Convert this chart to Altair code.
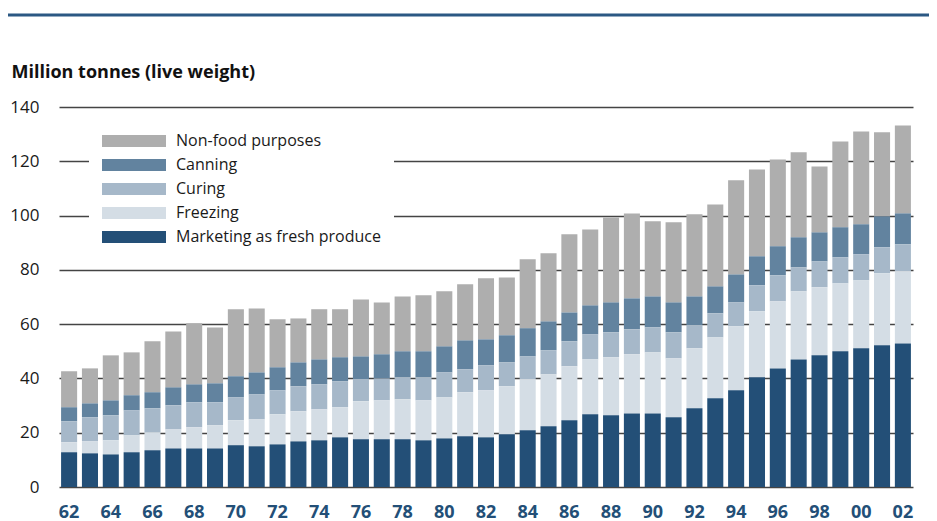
import altair as alt
import pandas as pd

years = list(range(1962, 2003))

fresh = [12.8, 12.4, 12.0, 12.8, 13.5, 14.2, 14.2, 14.2, 15.4, 15.0,
         15.7, 16.8, 17.2, 18.3, 17.6, 17.6, 17.6, 17.2, 17.9, 18.7,
         18.3, 19.4, 20.9, 22.4, 24.6, 26.8, 26.4, 27.1, 27.1, 25.7,
         29.0, 32.7, 35.6, 40.4, 43.7, 47.0, 48.5, 50.0, 51.1, 52.2, 52.9]
freezing = [3.7, 4.4, 5.2, 6.2, 6.6, 7.0, 7.8, 8.5, 9.2, 9.9,
            11.1, 11.1, 11.4, 11.1, 14.0, 14.3, 14.7, 14.7, 15.1, 16.2,
            17.3, 17.7, 18.8, 19.1, 19.9, 20.2, 21.4, 21.8, 22.5, 21.7,
            22.1, 22.4, 23.6, 24.3, 24.7, 25.1, 25.1, 25.0, 25.0, 26.5, 26.6]
curing = [7.7, 8.9, 9.2, 9.2, 8.9, 8.9, 9.2, 8.5, 8.4, 9.2,
          8.8, 9.2, 9.2, 9.5, 8.1, 8.1, 8.1, 8.5, 9.2, 8.5,
          9.2, 8.8, 8.4, 8.9, 9.2, 9.2, 9.2, 9.2, 9.2, 9.6,
          8.5, 8.9, 8.8, 9.6, 9.6, 8.8, 9.5, 9.6, 9.6, 9.6, 9.9]
canning = [5.2, 5.1, 5.5, 5.6, 5.9, 6.6, 6.6, 7.0, 7.8, 8.1,
           8.5, 8.8, 9.2, 8.9, 8.4, 8.9, 9.6, 9.6, 9.6, 10.6,
           9.6, 10.0, 10.4, 10.6, 10.6, 10.7, 11.0, 11.4, 11.4, 11.0,
           10.6, 9.9, 10.3, 10.7, 10.7, 11.1, 10.7, 11.1, 11.1, 11.4, 11.4]
nonfood = [13.2, 12.9, 16.6, 15.8, 18.8, 20.6, 22.5, 20.6, 24.7, 23.6,
           17.7, 16.2, 18.5, 17.7, 21.0, 19.1, 20.2, 20.6, 20.3, 20.7,
           22.5, 21.3, 25.4, 25.1, 28.8, 28.0, 31.3, 31.3, 27.7, 29.5,
           30.3, 30.2, 34.7, 32.0, 32.0, 31.3, 24.3, 31.6, 34.2, 31.0, 32.4]

categories = ["Non-food purposes", "Canning", "Curing", "Freezing",
              "Marketing as fresh produce"]
colors = ["#aeaeae", "#62839f", "#a6b8c9", "#d4dde5", "#234f77"]
series = [nonfood, canning, curing, freezing, fresh]
y_ticks = [0, 20, 40, 60, 80, 100, 120, 140]

rows = []
for i, yr in enumerate(years):
    for k, (cat, vals) in enumerate(zip(categories, series)):
        rows.append({"year": yr, "category": cat, "value": vals[i],
                     "order": len(categories) - k})
df = pd.DataFrame(rows)

FONT = "Open Sans"

bars = alt.Chart(df).mark_bar().encode(
    x=alt.X("year:O",
            scale=alt.Scale(paddingInner=0.23, paddingOuter=0.1),
            axis=alt.Axis(title=None, labelAngle=0,
                          labelExpr="datum.value % 2 == 0 ? substring(toString(datum.value), 2) : ''",
                          labelFont=FONT, labelFontSize=18, labelFontWeight="bold",
                          labelColor="#234f77", labelPadding=16, labelOverlap=False,
                          ticks=False, domain=False, grid=False)),
    y=alt.Y("value:Q", stack="zero",
            scale=alt.Scale(domain=[0, 140]),
            axis=alt.Axis(values=y_ticks, title="Million tonnes (live weight)",
                          titleAngle=0, titleX=-48, titleY=-35, titleAlign="left",
                          titleBaseline="middle", titleFont=FONT, titleFontSize=18,
                          titleFontWeight="bold", titleColor="#111111",
                          labelFont=FONT, labelFontSize=17, labelColor="#1a1a1a",
                          labelPadding=20, grid=True, gridColor="#444444",
                          gridWidth=1.3, domain=False, ticks=False)),
    color=alt.Color("category:N",
                    scale=alt.Scale(domain=categories, range=colors),
                    legend=alt.Legend(orient="none", legendX=30, legendY=9,
                                      title=None,
                                      symbolType="M-1,-0.1875L1,-0.1875L1,0.1875L-1,0.1875Z",
                                      symbolSize=4096, symbolStrokeWidth=0,
                                      symbolOpacity=1, clipHeight=24,
                                      labelFont=FONT, labelFontSize=16,
                                      labelLimit=400,
                                      labelColor="#1a1a1a", labelOffset=10,
                                      rowPadding=0, fillColor="white", padding=13)),
    order=alt.Order("order:Q", sort="ascending"),
)

top_rule = alt.Chart(pd.DataFrame({"a": [0]})).mark_rule(
    color="#2b5883", strokeWidth=3
).encode(x=alt.value(-51), x2=alt.value(870), y=alt.value(-92))

chart = alt.layer(bars, top_rule).properties(
    width=854, height=380,
    autosize=alt.AutoSizeParams(type="none"),
    padding={"left": 51, "top": 99, "right": 16, "bottom": 34},
).configure_view(stroke=None)

chart.save("out.html", embed_options={"renderer": "svg", "actions": False})
